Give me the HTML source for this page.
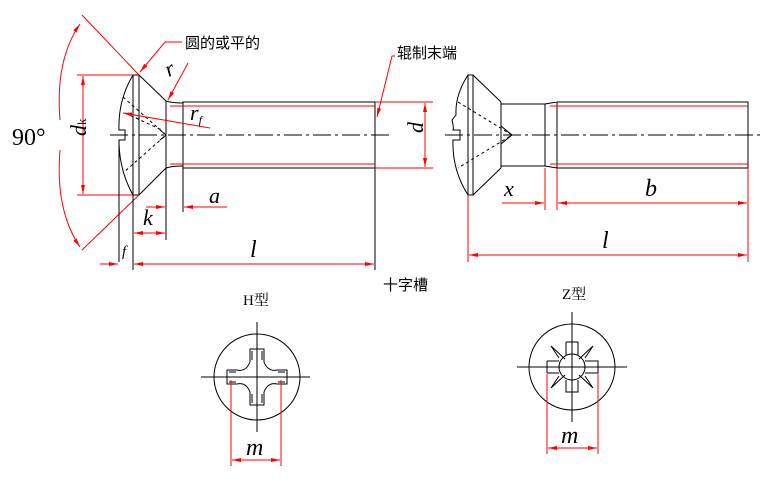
<!DOCTYPE html>
<html><head><meta charset="utf-8"><style>
html,body{margin:0;padding:0;background:#fff;}
svg{display:block;}
.k{stroke:#000;stroke-width:1;fill:none;}
.r{stroke:#f00;stroke-width:1;fill:none;}
.t{font-family:"Liberation Serif","Noto Serif CJK SC",serif;font-style:italic;fill:#000;}
.c{font-family:"Liberation Sans","Noto Sans CJK SC",sans-serif;fill:#000;font-size:15px;}
</style></head><body>
<svg width="779" height="481" viewBox="0 0 779 481" xmlns="http://www.w3.org/2000/svg">
<defs>
<marker id="a" markerWidth="10" markerHeight="6" refX="9" refY="3" orient="auto" markerUnits="userSpaceOnUse"><path d="M0,1 L9,3 L0,5z" fill="#f00"/></marker>
</defs>
<!-- LEFT SCREW -->
<path class="k" d="M133,75 Q118,100 119,130 L125,130 L125,140 L119,140 Q119,170 133,195"/>
<rect class="k" x="133" y="75" width="6" height="120"/>
<path class="k" d="M139,75 L166,101 M139,195 L166,168 M166,101 L166,168"/>
<path class="k" d="M166,101 Q172,103 183,103 M166,168 Q172,166 183,166"/>
<path class="k" d="M183,102 H375 V168 H183 Z"/>
<path class="k" stroke-dasharray="3,3" d="M123,97 L166,135 L123,173 M125,113 L162,130"/>
<path class="k" d="M160,130 L166,135 L160,140"/>
<path class="k" stroke-dasharray="18,4,3,4" d="M110,135 H392"/>
<path class="r" d="M170,106 H375 M170,164 H375"/>
<!-- dk -->
<path class="r" d="M77,75 H133 M77,195 H133"/>
<path class="r" d="M83,135 V76" marker-end="url(#a)"/><path class="r" d="M83,135 V194" marker-end="url(#a)"/>
<text class="t" x="76" y="146" font-size="22" transform="rotate(-90 76 136)">d<tspan font-size="13" font-style="normal">k</tspan></text>
<!-- 90 -->
<path class="r" d="M82,15 L139,75 M139,195 L82,250"/>
<path class="r" d="M60,120 Q55,60 80,24" marker-end="url(#a)"/>
<path class="r" d="M60,150 Q55,210 80,247" marker-end="url(#a)"/>
<text x="12" y="145" font-family="Liberation Serif,serif" font-size="24">90°</text>
<!-- labels top -->
<path class="r" d="M182,42 H165 L140,72" marker-end="url(#a)"/>
<text class="c" x="185" y="48">圆的或平的</text>
<path class="r" d="M188,63 L168,100" marker-end="url(#a)"/>
<text class="t" x="166" y="75" font-size="22" transform="rotate(-25 172 70)">r</text>
<path class="r" d="M210,128 L123,113" marker-end="url(#a)"/>
<text class="t" x="190" y="120" font-size="22">r<tspan font-size="12" dy="4">f</tspan></text>
<!-- a, k -->
<path class="r" d="M146,207 H165" marker-end="url(#a)"/><path class="r" d="M227,207 H184" marker-end="url(#a)"/>
<text class="t" x="209" y="203" font-size="22">a</text>
<path class="k" d="M166,168 V240 M183,168 V212 M133,195 V270 M119,145 V262"/>
<path class="r" d="M150,233 H134" marker-end="url(#a)"/><path class="r" d="M150,233 H165" marker-end="url(#a)"/>
<text class="t" x="143" y="225" font-size="22">k</text>
<!-- f, l -->
<path class="r" d="M100,264 H118" marker-end="url(#a)"/><path class="r" d="M250,264 H134" marker-end="url(#a)"/><path class="r" d="M250,264 H374" marker-end="url(#a)"/>
<text class="t" x="122" y="256" font-size="15">f</text>
<text class="t" x="250" y="257" font-size="24">l</text>
<path class="r" d="M375,168 V270"/>
<path class="k" d="M375,168 V270"/>
<!-- 辊制末端 -->
<path class="r" d="M395,56 H392 L377,117" marker-end="url(#a)"/>
<text class="c" x="397" y="58">辊制末端</text>
<!-- d -->
<path class="r" d="M375,102 H433 M375,168 H433"/>
<path class="r" d="M425,135 V103" marker-end="url(#a)"/><path class="r" d="M425,135 V167" marker-end="url(#a)"/>
<text class="t" x="418" y="144" font-size="22" transform="rotate(-90 415 136)">d</text>
<text class="c" x="383" y="290">十字槽</text>
<!-- RIGHT SCREW -->
<path class="k" d="M468,75 Q455,95 456,115 L452,120 Q454,128 453,130 L460,130 L460,140 L453,140 Q452,170 468,195"/>
<rect class="k" x="468" y="75" width="5" height="120"/>
<path class="k" d="M473,75 L501,102 M473,195 L501,168 M501,102 V168 M501,104 H545 M501,166 H545 M545,104 V166"/>
<path class="k" d="M545,104 L557,102 M545,166 L557,168 M557,102 H748 V168 H557 Z"/>
<path class="k" stroke-dasharray="3,3" d="M458,102 L512,135 L458,168"/>
<path class="k" d="M501,126 L512,135 L501,144"/>
<path class="k" stroke-dasharray="18,4,3,4" d="M445,135 H762"/>
<path class="r" d="M550,106 H748 M550,164 H748"/>
<path class="r" d="M545,168 V210 M557,168 V210 M748,168 V262 M468,195 V262"/>
<path class="r" d="M502,203 H544" marker-end="url(#a)"/><path class="r" d="M650,203 H558" marker-end="url(#a)"/><path class="r" d="M650,203 H747" marker-end="url(#a)"/>
<text class="t" x="504" y="196" font-size="22">x</text>
<text class="t" x="645" y="196" font-size="24">b</text>
<path class="r" d="M600,255 H469" marker-end="url(#a)"/><path class="r" d="M600,255 H747" marker-end="url(#a)"/>
<text class="t" x="602" y="248" font-size="24">l</text>
<!-- H type -->
<text x="243" y="305" font-family="Liberation Serif,Noto Serif CJK SC,serif" font-size="15">H型</text>
<circle class="k" cx="257" cy="377" r="43"/>
<path class="k" d="M201,377 H310 M257,322 V432"/>
<path class="k" d="M250,349 H264 V362 Q268,372 277,370 H287 V384 H277 Q268,382 264,392 V405 H250 V392 Q246,382 237,384 H227 V370 H237 Q246,372 250,362 Z"/>
<path class="k" d="M229,372 H236 M229,382 H236 M278,372 H285 M278,382 H285 M252,351 V360 M262,351 V360 M252,394 V403 M262,394 V403"/>
<path class="r" d="M231,380 V466 M281,380 V466"/>
<path class="r" d="M256,460 H232" marker-end="url(#a)"/><path class="r" d="M256,460 H280" marker-end="url(#a)"/>
<text class="t" x="246" y="455" font-size="24">m</text>
<!-- Z type -->
<text x="562" y="299" font-family="Liberation Serif,Noto Serif CJK SC,serif" font-size="15">Z型</text>
<circle class="k" cx="572" cy="367" r="43"/>
<path class="k" d="M517,367 H627 M572,312 V422"/>
<circle class="k" cx="572" cy="367" r="13"/>
<path class="k" d="M566,342 H578 V355 M566,342 V355 M566,380 V392 H578 V380 M547,361 H559 M547,373 H559 M547,361 V373 M585,361 H598 V373 H585"/>
<path class="k" d="M551,346 L565,359 M593,346 L579,359 M551,388 L565,375 M593,388 L579,375 M551,346 L559,358 M593,346 L585,358 M551,388 L559,376 M593,388 L585,376"/>
<path class="r" d="M547,374 V454 M598,374 V454"/>
<path class="r" d="M572,448 H548" marker-end="url(#a)"/><path class="r" d="M572,448 H597" marker-end="url(#a)"/>
<text class="t" x="561" y="443" font-size="24">m</text>
</svg>
</body></html>
